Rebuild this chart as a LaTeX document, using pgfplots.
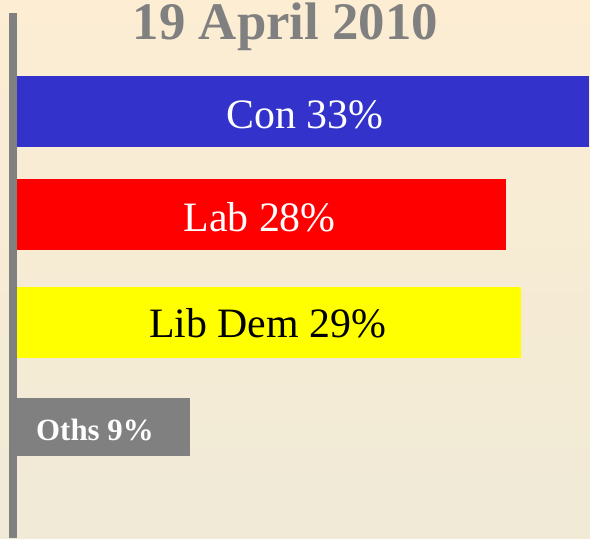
\documentclass[border=0pt]{standalone}
\usepackage{pgfplots}
\pgfplotsset{compat=1.18}
\usepackage{fontspec}
\setmainfont{Liberation Serif}
\definecolor{bgtop}{RGB}{252,237,211}
\definecolor{bgbot}{RGB}{240,234,214}
\definecolor{conblue}{RGB}{51,51,204}
\definecolor{labred}{RGB}{255,0,0}
\definecolor{ldyellow}{RGB}{255,255,0}
\definecolor{othgray}{RGB}{128,128,128}
\begin{document}
\begin{tikzpicture}
\begin{axis}[
  width=577bp, height=525bp, scale only axis,
  xmin=-0.231, xmax=33.06, ymin=13, ymax=538, y dir=reverse,
  axis x line=none, axis y line=left,
  y axis line style={-, line width=8bp, color=othgray},
  xtick=\empty, ytick=\empty,
  xbar, bar shift=0pt,
  clip=false, axis on top,
]
\shade[top color=bgtop,bottom color=bgbot] (axis cs:-0.981,0) rectangle (axis cs:33.06,538);
\node[font=\bfseries\fontsize{53}{53}\selectfont, text=othgray, anchor=base, inner sep=0pt] at (axis cs:15.49,40) {19 April 2010};
\addplot[fill=conblue, draw=none, bar width=71] coordinates {(33,111.5)};
\addplot[fill=labred, draw=none, bar width=71] coordinates {(28.2,214.5)};
\addplot[fill=ldyellow, draw=none, bar width=70.7] coordinates {(29.1,322.3)};
\addplot[fill=othgray, draw=none, bar width=57.7] coordinates {(10.0,427)};
\node[text=white, font=\fontsize{42}{42}\selectfont, anchor=base, inner sep=0pt] at (axis cs:16.62,128.3) {Con 33\%};
\node[text=white, font=\fontsize{42}{42}\selectfont, anchor=base, inner sep=0pt] at (axis cs:14.0,231.3) {Lab 28\%};
\node[text=black, font=\fontsize{42}{42}\selectfont, anchor=base, inner sep=0pt] at (axis cs:14.46,337.5) {Lib Dem 29\%};
\node[text=white, font=\bfseries\fontsize{31}{31}\selectfont, anchor=base west, inner sep=0pt] at (axis cs:1.096,440) {Oths 9\%};
\end{axis}
\end{tikzpicture}
\end{document}
